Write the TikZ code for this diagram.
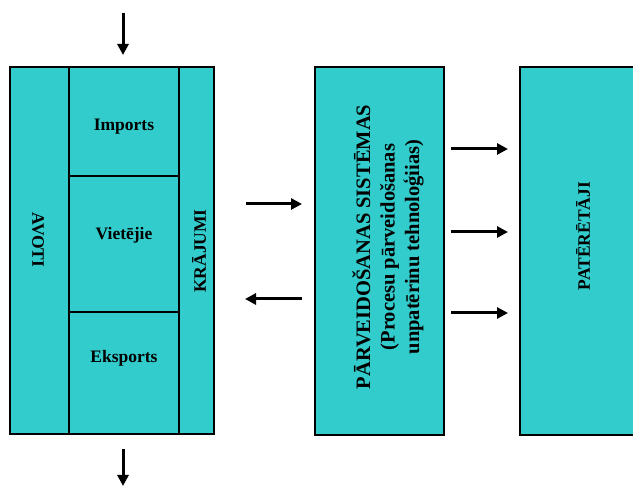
\documentclass[tikz,border=0pt]{standalone}
\usepackage{fontspec}
\setmainfont{Liberation Serif}
\usetikzlibrary{arrows.meta}
\definecolor{teal1}{HTML}{33CCCC}
\tikzset{
  box/.style={draw=black, line width=2pt, fill=teal1, inner sep=0pt, anchor=south west},
  lbl/.style={font=\bfseries\fontsize{17.5}{20}\selectfont, inner sep=0pt},
  mlbl/.style={font=\bfseries\fontsize{20.5}{24.5}\selectfont, inner sep=0pt, align=center},
  arr/.style={line width=3pt, -{Triangle[length=11pt,width=11pt]}}
}
\begin{document}
\begin{tikzpicture}[x=1pt,y=1pt]
\useasboundingbox (0,0) rectangle (633,486);
\clip (0,0) rectangle (633,486);
% left group
\node[box, minimum width=59pt, minimum height=367pt] (avoti) at (9,51) {};
\node[box, minimum width=110pt, minimum height=109pt] (imports) at (68,309) {};
\node[box, minimum width=110pt, minimum height=136pt] (vietejie) at (68,173) {};
\node[box, minimum width=110pt, minimum height=122pt] (eksports) at (68,51) {};
\node[box, minimum width=35pt, minimum height=367pt] (krajumi) at (178,51) {};
% middle and right
\node[box, minimum width=129pt, minimum height=368pt] (parv) at (314,50) {};
\node[box, minimum width=130pt, minimum height=368pt] (pat) at (519,50) {};
% labels
\node[lbl, rotate=-90] (tavoti) at (38,246) {AVOTI};
\node[lbl] (timports) at (124,359) {Imports};
\node[lbl] (tviet) at (124,251) {Vietējie};
\node[lbl] (teks) at (124,128) {Eksports};
\node[lbl, rotate=90] (tkraj) at (199,235) {KRĀJUMI};
\node[mlbl, rotate=90] (tparv) at (388,239) {PĀRVEIDOŠANAS SISTĒMAS\\(Procesu pārveidošanas\\unpatērinu tehnoloģiias)};
\node[lbl, rotate=90] (tpat) at (583,250) {PATĒRĒTĀJI};
% arrow endpoints
\coordinate (inS) at (123,473);
\coordinate (inE) at (123,431);
\coordinate (outS) at (123,37);
\coordinate (outE) at (123,0);
\coordinate (a1s) at (246,282);
\coordinate (a1e) at (302,282);
\coordinate (a2s) at (302,187);
\coordinate (a2e) at (245,187);
\coordinate (b1s) at (451,337);
\coordinate (b1e) at (508,337);
\coordinate (b2s) at (451,254);
\coordinate (b2e) at (508,254);
\coordinate (b3s) at (451,173);
\coordinate (b3e) at (508,173);
\draw[arr] (inS) -- (inE);
\draw[arr] (outS) -- (outE);
\draw[arr] (a1s) -- (a1e);
\draw[arr] (a2s) -- (a2e);
\draw[arr] (b1s) -- (b1e);
\draw[arr] (b2s) -- (b2e);
\draw[arr] (b3s) -- (b3e);
\end{tikzpicture}
\end{document}
